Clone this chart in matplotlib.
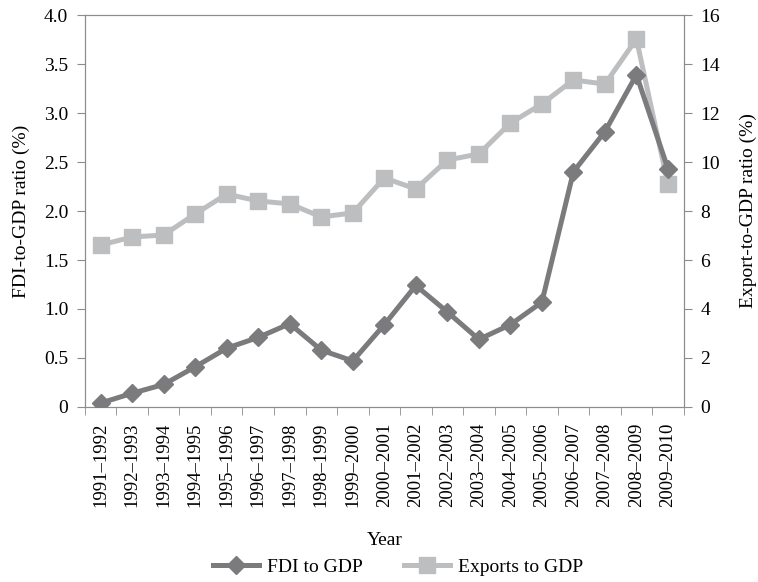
import numpy as np
import matplotlib.pyplot as plt

plt.rcParams['font.family'] = ['Liberation Serif', 'DejaVu Serif']

years = ['1991–1992', '1992–1993', '1993–1994', '1994–1995', '1995–1996',
         '1996–1997', '1997–1998', '1998–1999', '1999–2000', '2000–2001',
         '2001–2002', '2002–2003', '2003–2004', '2004–2005', '2005–2006',
         '2006–2007', '2007–2008', '2008–2009', '2009–2010']
fdi = [0.04, 0.14, 0.23, 0.41, 0.60, 0.71, 0.85, 0.58, 0.47, 0.84,
       1.24, 0.97, 0.69, 0.84, 1.07, 2.40, 2.81, 3.39, 2.43]
exports = [6.61, 6.94, 7.02, 7.88, 8.69, 8.41, 8.29, 7.76, 7.92, 9.35,
           8.90, 10.08, 10.33, 11.59, 12.37, 13.35, 13.18, 15.02, 9.10]

fdi_col = '#7b7b7d'
exp_col = '#bdbec0'
spine_col = '#8c8c8c'

fig = plt.figure(figsize=(7.58, 5.82), dpi=100)
ax = fig.add_axes([0.112, 0.3007, 0.79, 0.6735])
ax2 = ax.twinx()

x = np.arange(len(years))
l1, = ax.plot(x, fdi, color=fdi_col, lw=3.6, marker='D', ms=9, zorder=3,
              label='FDI to GDP')
l2, = ax2.plot(x, exports, color=exp_col, lw=3.6, marker='s', ms=11, zorder=2,
               label='Exports to GDP')
ax.set_zorder(ax2.get_zorder() + 1)
ax.patch.set_visible(False)

ax.set_xlim(-0.5, len(years) - 0.5)
ax.set_ylim(0, 4.0)
ax2.set_ylim(0, 16)
ax.set_yticks(np.arange(0, 4.01, 0.5))
ax.set_yticklabels(['0'] + ['%.1f' % v for v in np.arange(0.5, 4.01, 0.5)])
ax2.set_yticks(np.arange(0, 16.1, 2))

ax.set_xticks(x)
ax.set_xticklabels(years, rotation=90)
ax.set_xticks(np.arange(-0.5, len(years), 1), minor=True)
ax.tick_params(axis='x', which='major', length=0, pad=11)
ax.tick_params(axis='x', which='minor', length=6, color=spine_col)

for a in (ax, ax2):
    for s in a.spines.values():
        s.set_color(spine_col)
    a.tick_params(axis='y', length=6, color=spine_col, labelsize=14, pad=6)
    a.tick_params(axis='x', labelsize=13.5)

ax.set_xlabel('Year', fontsize=14, labelpad=18)
ax.set_ylabel('FDI-to-GDP ratio (%)', fontsize=14, labelpad=10)
ax2.set_ylabel('Export-to-GDP ratio (%)', fontsize=14, labelpad=14)

fig.legend(handles=[l1, l2], loc='center', ncol=2, frameon=False,
           fontsize=14, bbox_to_anchor=(0.525, 0.026), handlelength=2.4,
           handletextpad=0.4, columnspacing=2.1)

fig.savefig('out.png', dpi=100)
